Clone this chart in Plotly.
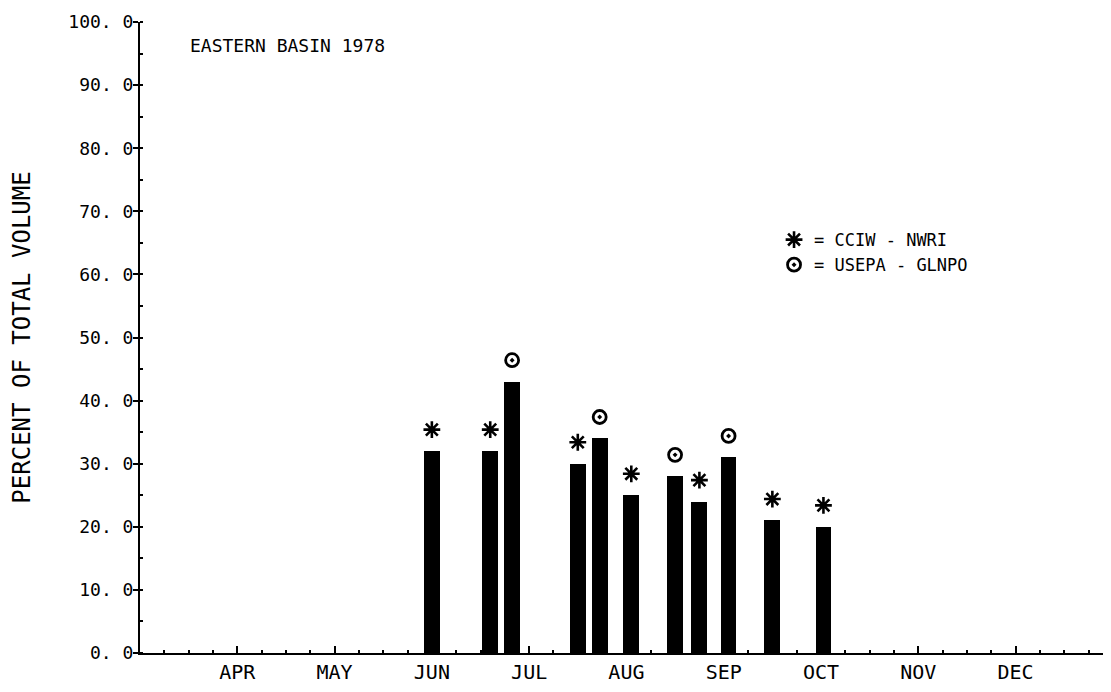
import plotly.graph_objects as go

# ---- data ----
# x positions in weeks from 1 March (4 weeks per month label on the original plot)
week = [12.0, 14.4, 15.3, 18.0, 18.9, 20.2, 22.0, 23.0, 24.2, 26.0, 28.1]
percent = [32, 32, 43, 30, 34, 25, 28, 24, 31, 21, 20]
source = ["CCIW", "CCIW", "USEPA", "CCIW", "USEPA", "CCIW",
          "USEPA", "CCIW", "USEPA", "CCIW", "CCIW"]

month_pos = [4, 8, 12, 16, 20, 24, 28, 32, 36]
month_labels = ["APR", "MAY", "JUN", "JUL", "AUG", "SEP", "OCT", "NOV", "DEC"]
y_ticks = [0, 10, 20, 30, 40, 50, 60, 70, 80, 90, 100]
y_ticktext = [f"{v:.1f}".replace(".", ". ") for v in y_ticks]

FONT = "DejaVu Sans Mono"
GAP = 3.4  # marker gap above bar top, in percent units

fig = go.Figure()
fig.add_trace(go.Bar(
    x=week, y=percent, width=0.65,
    marker=dict(color="black", line=dict(width=0)),
    showlegend=False, hoverinfo="x+y",
))

def marker_trace(src, name, symbol, size, lw):
    xs = [w for w, s in zip(week, source) if s == src]
    ys = [p + GAP for p, s in zip(percent, source) if s == src]
    return go.Scatter(
        x=xs, y=ys, mode="markers", name=name,
        marker=dict(symbol=symbol, size=size, color="black",
                    line=dict(color="black", width=lw)),
    )

fig.add_trace(marker_trace("CCIW", "= CCIW - NWRI", "asterisk-open", 14, 2.6))
fig.add_trace(marker_trace("USEPA", "= USEPA - GLNPO", "circle-open-dot", 13, 2.8))

fig.add_annotation(
    text="EASTERN BASIN 1978", xref="paper", yref="paper",
    x=0.0496, y=0.9635, xanchor="left", yanchor="middle", showarrow=False,
    font=dict(family=FONT, size=18, color="black"),
)

# the page body adds an 8 px offset, so the figure is sized to fit the window
fig.update_layout(
    width=1103, height=684,
    margin=dict(l=132, r=3, t=14, b=39, autoexpand=False),
    paper_bgcolor="white", plot_bgcolor="white",
    font=dict(family=FONT, color="black", size=17),
    bargap=0,
    legend=dict(
        x=0.655, y=0.683, xanchor="left", yanchor="top",
        bgcolor="rgba(0,0,0,0)", font=dict(family=FONT, size=17),
        itemwidth=30, tracegroupgap=0,
    ),
    xaxis=dict(
        range=[0, 39.8], showgrid=False, zeroline=False,
        showline=True, linecolor="black", linewidth=2,
        tickmode="array", tickvals=month_pos, ticktext=month_labels,
        ticks="inside", ticklen=7, tickwidth=1.5, tickcolor="black",
        tickfont=dict(family=FONT, size=20),
        minor=dict(dtick=1, tick0=0, ticks="inside", ticklen=3,
                   tickwidth=1.5, tickcolor="black"),
    ),
    yaxis=dict(
        range=[0, 100], showgrid=False, zeroline=False,
        showline=True, linecolor="black", linewidth=2,
        tickmode="array", tickvals=y_ticks, ticktext=y_ticktext,
        ticks="outside", ticklen=5, tickwidth=1.5, tickcolor="black",
        tickfont=dict(family=FONT, size=18), ticklabelstandoff=-4,
        minor=dict(dtick=5, tick0=0, ticks="inside", ticklen=3,
                   tickwidth=1.5, tickcolor="black"),
        title=dict(text="PERCENT OF TOTAL VOLUME", standoff=36,
                   font=dict(family=FONT, size=24)),
    ),
)

fig.write_html("out.html")
